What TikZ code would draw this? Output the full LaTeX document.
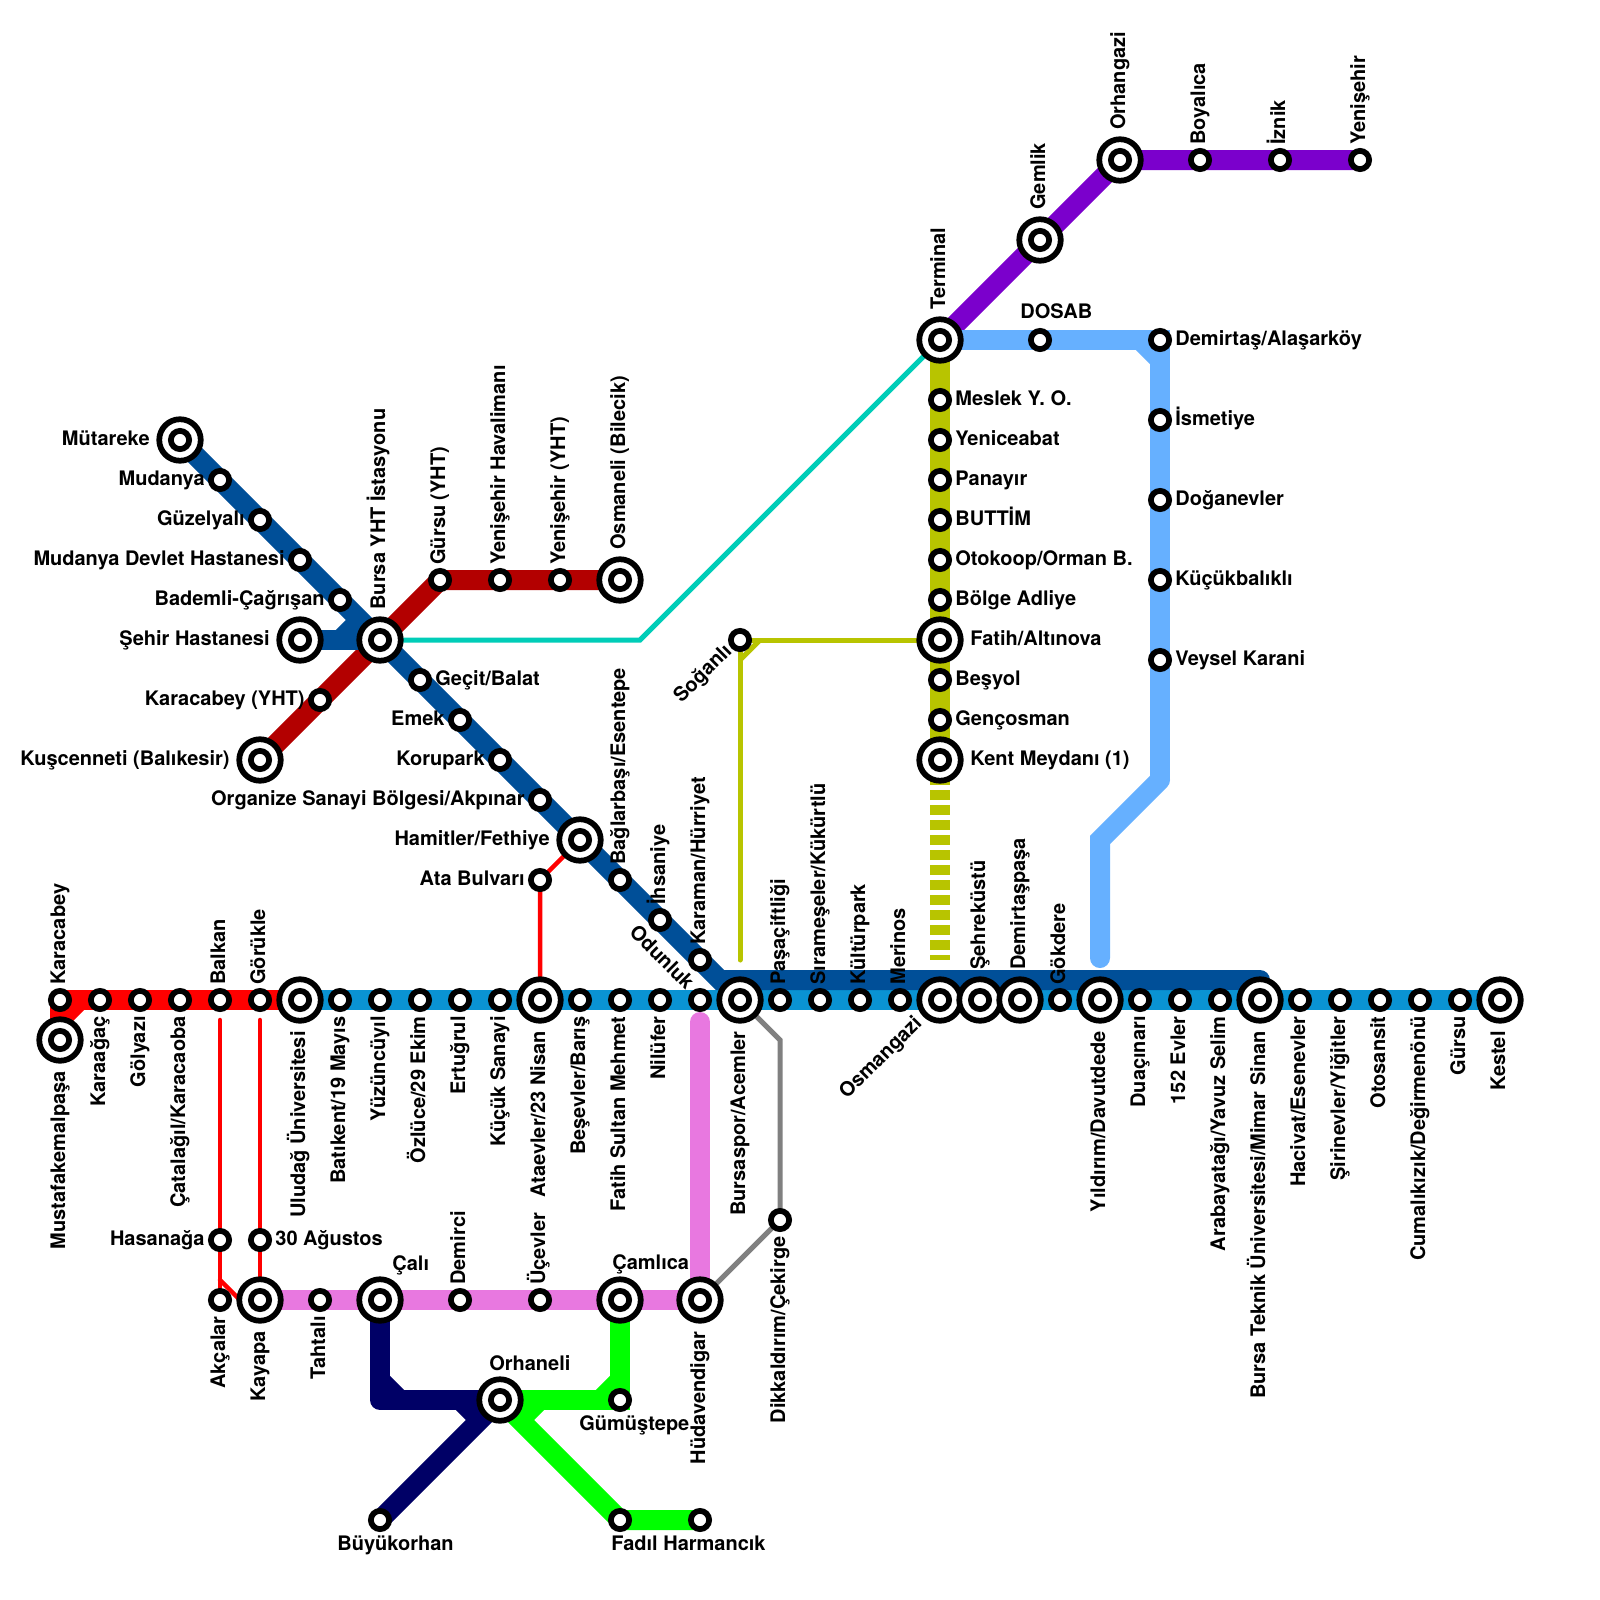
\documentclass[tikz,border=0pt]{standalone}
\usepackage{fontspec}
\setmainfont{TeX Gyre Heros}
\pgfdeclarelayer{lines}
\pgfsetlayers{lines,main}
\definecolor{cRed}{HTML}{FF0000}
\definecolor{cBlue}{HTML}{0A93D3}
\definecolor{cDark}{HTML}{004F98}
\definecolor{cMaroon}{HTML}{B30000}
\definecolor{cTeal}{HTML}{00CDB8}
\definecolor{cPurple}{HTML}{7B00CC}
\definecolor{cSky}{HTML}{66B0FF}
\definecolor{cOlive}{HTML}{B8C400}
\definecolor{cPink}{HTML}{E878E0}
\definecolor{cNavy}{HTML}{000066}
\definecolor{cGreen}{HTML}{00FF00}
\definecolor{cGray}{HTML}{808080}
\tikzset{
  smallst/.style={circle,draw=black,fill=white,line width=2.875pt,outer sep=0pt,minimum size=9.125pt,inner sep=0pt},
  bigst/.style={circle,draw=black,fill=white,line width=2.875pt,outer sep=0pt,minimum size=20.75pt,inner sep=0pt,
    path picture={\draw[black,fill=white,line width=2.875pt] (path picture bounding box.center) circle (4.5625pt);}},
  lab/.style={inner sep=0pt,font=\fontsize{10}{12}\selectfont\bfseries,text=black},
  lu/.style={lab,shift={(5,-15)},rotate=90,anchor=base west},
  lU/.style={lab,shift={(5,-30)},rotate=90,anchor=base west},
  ld/.style={lab,shift={(5,16)},rotate=90,anchor=base east},
  lD/.style={lab,shift={(5,31)},rotate=90,anchor=base east},
  lr/.style={lab,shift={(15,5)},anchor=base west},
  lR/.style={lab,shift={(30,5)},anchor=base west},
  ll/.style={lab,shift={(-15,5)},anchor=base east},
  lL/.style={lab,shift={(-30,5)},anchor=base east},
  lp/.style={lab,anchor=base west},
  thick band/.style={line width=10pt},
  thin band/.style={line width=2.5pt},
  red band/.style={line width=2.25pt,cRed,line cap=round},
}
\newcommand\Sm[3]{\node[smallst] (#1) at (#2,#3) {};}
\newcommand\Bg[3]{\node[bigst] (#1) at (#2,#3) {};}
\newcommand\Lb[3]{\node[#1] (lab-#2) at (#2) {#3};}
\begin{document}
\begin{tikzpicture}[x=0.5pt,y=-0.5pt]
\useasboundingbox (0,0) rectangle (1600,1600);
% stations: main line
\Sm{karacabey}{60}{1000}\Bg{mkp}{60}{1040}\Sm{karaagac}{100}{1000}\Sm{golyazi}{140}{1000}\Sm{catalagil}{180}{1000}
\Sm{balkan}{220}{1000}\Sm{gorukle}{260}{1000}\Bg{uludag}{300}{1000}\Sm{batikent}{340}{1000}\Sm{yuzuncu}{380}{1000}
\Sm{ozluce}{420}{1000}\Sm{ertugrul}{460}{1000}\Sm{kucuksan}{500}{1000}\Bg{ataevler}{540}{1000}\Sm{besevler}{580}{1000}
\Sm{fsm}{620}{1000}\Sm{nilufer}{660}{1000}\Sm{odunluk}{700}{1000}\Bg{bursaspor}{740}{1000}\Sm{pasaciftlik}{780}{1000}
\Sm{sirameseler}{820}{1000}\Sm{kulturpark}{860}{1000}\Sm{merinos}{900}{1000}\Bg{osmangazi}{940}{1000}\Bg{sehrekustu}{980}{1000}
\Bg{demirtaspasa}{1020}{1000}\Sm{gokdere}{1060}{1000}\Bg{yildirim}{1100}{1000}\Sm{duacinari}{1140}{1000}\Sm{evler}{1180}{1000}
\Sm{arabayatagi}{1220}{1000}\Bg{btu}{1260}{1000}\Sm{hacivat}{1300}{1000}\Sm{sirinevler}{1340}{1000}\Sm{otosansit}{1380}{1000}
\Sm{cumalikizik}{1420}{1000}\Sm{gursu}{1460}{1000}\Bg{kestel}{1500}{1000}
% dark blue diagonal
\Bg{mutareke}{180}{440}\Sm{mudanya}{220}{480}\Sm{guzelyali}{260}{520}\Sm{devlethast}{300}{560}\Sm{bademli}{340}{600}
\Bg{sehirhast}{300}{640}\Bg{bursayht}{380}{640}\Sm{gecit}{420}{680}\Sm{emek}{460}{720}\Sm{korupark}{500}{760}\Sm{osb}{540}{800}
\Bg{hamitler}{580}{840}\Sm{baglarbasi}{620}{880}\Sm{ihsaniye}{660}{920}\Sm{karaman}{700}{960}
% maroon
\Bg{kuscenneti}{260}{760}\Sm{karacabeyyht}{320}{700}\Sm{gursuyht}{440}{580}\Sm{yshava}{500}{580}\Sm{ysyht}{560}{580}\Bg{osmaneli}{620}{580}
% purple, sky
\Bg{terminal}{940}{340}\Bg{gemlik}{1040}{240}\Bg{orhangazi}{1120}{160}\Sm{boyalica}{1200}{160}\Sm{iznik}{1280}{160}\Sm{yenisehir}{1360}{160}
\Sm{dosab}{1040}{340}\Sm{demirtas}{1160}{340}\Sm{ismetiye}{1160}{420}\Sm{doganevler}{1160}{500}\Sm{kucukbalikli}{1160}{580}\Sm{veysel}{1160}{660}
% olive
\Sm{meslek}{940}{400}\Sm{yeniceabat}{940}{440}\Sm{panayir}{940}{480}\Sm{buttim}{940}{520}\Sm{otokoop}{940}{560}\Sm{bolge}{940}{600}
\Bg{fatih}{940}{640}\Sm{besyol}{940}{680}\Sm{gencosman}{940}{720}\Bg{kent}{940}{760}\Sm{soganli}{740}{640}
% red branches
\Sm{ata}{540}{880}\Sm{hasanaga}{220}{1240}\Sm{agustos}{260}{1240}\Sm{akcalar}{220}{1300}
% south
\Bg{kayapa}{260}{1300}\Sm{tahtali}{320}{1300}\Bg{cali}{380}{1300}\Sm{demirci}{460}{1300}\Sm{ucevler}{540}{1300}\Bg{camlica}{620}{1300}
\Bg{hudavendigar}{700}{1300}\Sm{dikkaldirim}{780}{1220}\Bg{orhaneli}{500}{1400}\Sm{gumustepe}{620}{1400}\Sm{buyukorhan}{380}{1520}
\Sm{fadil}{620}{1520}\Sm{harmancik}{700}{1520}
% bends and free ends
\coordinate (dkA) at (720,980);\coordinate (dkB) at (1260,980);\coordinate (dkC) at (1200,980);
\coordinate (shA) at (340,640);\coordinate (shB) at (360,620);
\coordinate (tlA) at (640,640);
\coordinate (skA) at (1140,340);\coordinate (skB) at (1160,360);\coordinate (skC) at (1160,780);\coordinate (skD) at (1100,840);\coordinate (skE) at (1100,958);
\coordinate (olEnd) at (940,960);
\coordinate (oA) at (760,640);\coordinate (oB) at (740,660);\coordinate (oC) at (740,960);
\coordinate (redA) at (80,1000);\coordinate (redB) at (60,1020);
\coordinate (bkEnd) at (220,1020);\coordinate (grEnd) at (260,1020);\coordinate (akA) at (220,1280);\coordinate (akB) at (240,1300);
\coordinate (pkEnd) at (700,1022);
\coordinate (gyA) at (780,1040);
\coordinate (nvA) at (380,1400);\coordinate (nvB) at (380,1380);\coordinate (nvC) at (400,1400);\coordinate (nvD) at (460,1400);\coordinate (nvE) at (480,1420);
\coordinate (gnA) at (620,1380);\coordinate (gnB) at (600,1400);\coordinate (gnC) at (540,1400);\coordinate (gnD) at (520,1420);
\begin{pgfonlayer}{lines}
\fill[white] (0,0) rectangle (1600,1600);
\draw[cTeal,thin band] (bursayht.center) -- (tlA) -- (terminal.center);
\draw[cGray,thin band] (bursaspor.center) -- (gyA) -- (dikkaldirim.center) -- (hudavendigar.center);
\draw[cOlive,thin band] (soganli.center) -- (fatih.center);
\draw[cOlive,thin band,line cap=round] (soganli.center) -- (oB) -- (oC);
\draw[cOlive,thin band] (oA) -- (oB);
\draw[red band] (ataevler.center) -- (ata.center) -- (hamitler.center);
\draw[red band] (bkEnd) -- (akcalar.center);
\draw[red band] (akA) -- (akB) -- (kayapa.center);
\draw[red band] (grEnd) -- (kayapa.center);
\draw[cMaroon,thick band] (kuscenneti.center) -- (bursayht.center) -- (gursuyht.center) -- (osmaneli.center);
\draw[cBlue,thick band] (uludag.center) -- (kestel.center);
\draw[cRed,thick band] (karacabey.center) -- (uludag.center);
\draw[cRed,thick band] (karacabey.center) -- (mkp.center);
\draw[cRed,thick band] (redA) -- (redB);
\draw[cDark,thick band] (mutareke.center) -- (karaman.center) -- (dkA) -- (dkC);
\draw[cDark,thick band,line join=round] (dkC) -- (dkB) -- (btu.center);
\draw[cDark,thick band] (sehirhast.center) -- (bursayht.center);
\draw[cDark,thick band] (shA) -- (shB);
\draw[cPurple,thick band] (terminal.center) -- (orhangazi.center) -- (yenisehir.center);
\draw[cOlive,thick band] (terminal.center) -- (kent.center);
\draw[cOlive,thick band,dash pattern=on 5pt off 2.5pt] (kent.center) -- (olEnd);
\draw[cSky,thick band] (terminal.center) -- (demirtas.center) -- (skC);
\draw[cSky,thick band] (skA) -- (skB);
\draw[cSky,thick band,line cap=round] (skC) -- (skD) -- (skE);
\draw[cPink,thick band] (kayapa.center) -- (hudavendigar.center);
\draw[cPink,thick band,line cap=round] (pkEnd) -- (hudavendigar.center);
\draw[cNavy,thick band,line join=round] (cali.center) -- (nvA) -- (orhaneli.center);
\draw[cNavy,thick band] (nvB) -- (nvC);
\draw[cNavy,thick band] (buyukorhan.center) -- (orhaneli.center);
\draw[cNavy,thick band] (nvD) -- (nvE);
\draw[cGreen,thick band] (camlica.center) -- (gumustepe.center) -- (orhaneli.center);
\draw[cGreen,thick band] (gnA) -- (gnB);
\draw[cGreen,thick band] (orhaneli.center) -- (fadil.center) -- (harmancik.center);
\draw[cGreen,thick band] (gnC) -- (gnD);
\end{pgfonlayer}
% labels above
\Lb{lu}{karacabey}{Karacabey}\Lb{lu}{balkan}{Balkan}\Lb{lu}{gorukle}{Görükle}
\Lb{lu}{gursuyht}{Gürsu (YHT)}\Lb{lu}{yshava}{Yenişehir Havalimanı}\Lb{lu}{ysyht}{Yenişehir (YHT)}
\Lb{lu}{boyalica}{Boyalıca}\Lb{lu}{iznik}{İznik}\Lb{lu}{yenisehir}{Yenişehir}
\Lb{lu}{ihsaniye}{İhsaniye}\Lb{lu}{karaman}{Karaman/Hürriyet}\Lb{lu}{pasaciftlik}{Paşaçiftliği}
\Lb{lu}{sirameseler}{Sırameşeler/Kükürtlü}\Lb{lu}{kulturpark}{Kültürpark}\Lb{lu}{merinos}{Merinos}\Lb{lu}{gokdere}{Gökdere}
\Lb{lu}{demirci}{Demirci}\Lb{lu}{ucevler}{Üçevler}\Lb{lu}{baglarbasi}{Bağlarbaşı/Esentepe}
\Lb{lU}{bursayht}{Bursa YHT İstasyonu}\Lb{lU}{osmaneli}{Osmaneli (Bilecik)}\Lb{lU}{terminal}{Terminal}\Lb{lU}{gemlik}{Gemlik}
\Lb{lU}{orhangazi}{Orhangazi}\Lb{lU}{sehrekustu}{Şehreküstü}\Lb{lU}{demirtaspasa}{Demirtaşpaşa}
% labels below
\Lb{ld}{karaagac}{Karaağaç}\Lb{ld}{golyazi}{Gölyazı}\Lb{ld}{catalagil}{Çatalağıl/Karacaoba}\Lb{ld}{batikent}{Batıkent/19 Mayıs}
\Lb{ld}{yuzuncu}{Yüzüncüyıl}\Lb{ld}{ozluce}{Özlüce/29 Ekim}\Lb{ld}{ertugrul}{Ertuğrul}\Lb{ld}{kucuksan}{Küçük Sanayi}
\Lb{ld}{besevler}{Beşevler/Barış}\Lb{ld}{fsm}{Fatih Sultan Mehmet}\Lb{ld}{nilufer}{Nilüfer}\Lb{ld}{duacinari}{Duaçınarı}
\Lb{ld}{evler}{152 Evler}\Lb{ld}{arabayatagi}{Arabayatağı/Yavuz Selim}\Lb{ld}{hacivat}{Hacivat/Esenevler}\Lb{ld}{sirinevler}{Şirinevler/Yiğitler}
\Lb{ld}{otosansit}{Otosansit}\Lb{ld}{cumalikizik}{Cumalıkızık/Değirmenönü}\Lb{ld}{gursu}{Gürsu}\Lb{ld}{akcalar}{Akçalar}
\Lb{ld}{tahtali}{Tahtalı}\Lb{ld}{dikkaldirim}{Dikkaldırım/Çekirge}
\Lb{lD}{mkp}{Mustafakemalpaşa}\Lb{lD}{uludag}{Uludağ Üniversitesi}\Lb{lD}{ataevler}{Ataevler/23 Nisan}\Lb{lD}{bursaspor}{Bursaspor/Acemler}
\Lb{lD}{yildirim}{Yıldırım/Davutdede}\Lb{lD}{btu}{Bursa Teknik Üniversitesi/Mimar Sinan}\Lb{lD}{kestel}{Kestel}\Lb{lD}{kayapa}{Kayapa}\Lb{lD}{hudavendigar}{Hüdavendigar}
% labels right
\Lb{lr}{gecit}{Geçit/Balat}\Lb{lr}{agustos}{30 Ağustos}\Lb{lr}{demirtas}{Demirtaş/Alaşarköy}\Lb{lr}{ismetiye}{İsmetiye}
\Lb{lr}{doganevler}{Doğanevler}\Lb{lr}{kucukbalikli}{Küçükbalıklı}\Lb{lr}{veysel}{Veysel Karani}\Lb{lr}{meslek}{Meslek Y. O.}
\Lb{lr}{yeniceabat}{Yeniceabat}\Lb{lr}{panayir}{Panayır}\Lb{lr}{buttim}{BUTTİM}\Lb{lr}{otokoop}{Otokoop/Orman B.}\Lb{lr}{bolge}{Bölge Adliye}
\Lb{lr}{besyol}{Beşyol}\Lb{lr}{gencosman}{Gençosman}
\Lb{lR}{fatih}{Fatih/Altınova}\Lb{lR}{kent}{Kent Meydanı (1)}
% labels left
\Lb{ll}{mudanya}{Mudanya}\Lb{ll}{guzelyali}{Güzelyalı}\Lb{ll}{devlethast}{Mudanya Devlet Hastanesi}\Lb{ll}{bademli}{Bademli-Çağrışan}
\Lb{ll}{karacabeyyht}{Karacabey (YHT)}\Lb{ll}{emek}{Emek}\Lb{ll}{korupark}{Korupark}\Lb{ll}{osb}{Organize Sanayi Bölgesi/Akpınar}
\Lb{ll}{ata}{Ata Bulvarı}\Lb{ll}{hasanaga}{Hasanağa}
\Lb{lL}{mutareke}{Mütareke}\Lb{lL}{sehirhast}{Şehir Hastanesi}\Lb{lL}{kuscenneti}{Kuşcenneti (Balıkesir)}\Lb{lL}{hamitler}{Hamitler/Fethiye}
% placed labels
\node[lp] (lab-dosab) at (1020,318) {DOSAB};
\node[lp] (lab-cali) at (392,1270) {Çalı};
\node[lp] (lab-camlica) at (612,1269) {Çamlıca};
\node[lp] (lab-orhaneli) at (489,1370) {Orhaneli};
\node[lp] (lab-buyuk) at (337,1550) {Büyükorhan};
\node[lp] (lab-gumus) at (579,1430) {Gümüştepe};
\node[lp] (lab-fadil) at (611,1550) {Fadıl Harmancık};
\node[lab,anchor=base east,rotate=45] (lab-soganli) at (733,652) {Soğanlı};
\node[lab,anchor=base east,rotate=-45] (lab-odunluk) at (686,991) {Odunluk};
\node[lab,anchor=base east,rotate=45] (lab-osmangazi) at (923,1024) {Osmangazi};
\end{tikzpicture}
\end{document}
